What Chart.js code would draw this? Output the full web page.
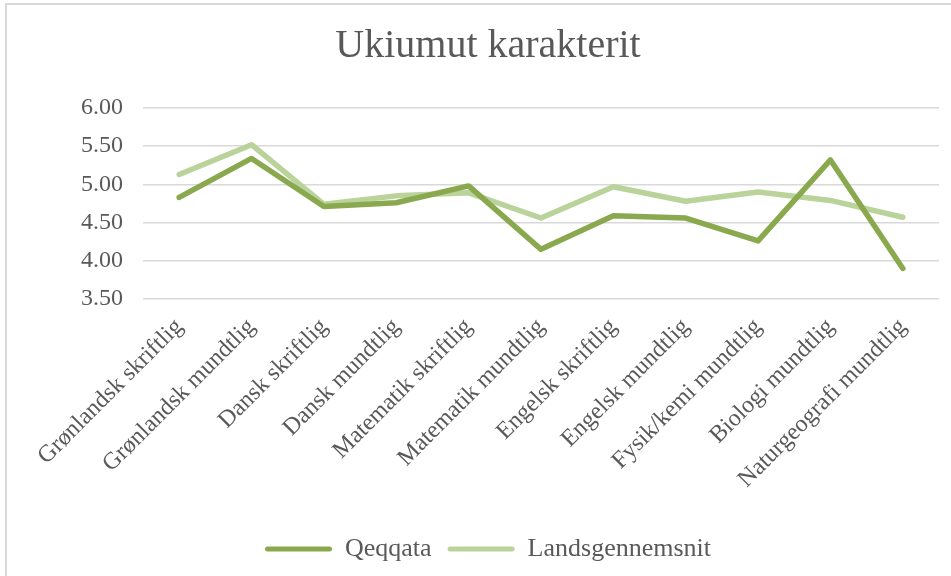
<!DOCTYPE html>
<html>
<head>
<meta charset="utf-8">
<script src="https://cdn.jsdelivr.net/npm/chart.js@4.4.1/dist/chart.umd.min.js"></script>
<style>
  html, body { margin: 0; padding: 0; background: #fff; }
  #wrap { position: relative; width: 951px; height: 576px; overflow: hidden; }
  #frame { position: absolute; left: 5px; top: 3px; width: 1000px; height: 1000px; border: 2px solid #d9d9d9; box-sizing: border-box; }
  canvas { position: absolute; left: 0; top: 0; }
</style>
</head>
<body>
<div id="wrap">
  <div id="frame"></div>
  <canvas id="c" width="951" height="576"></canvas>
</div>
<script>
const categories = [
  "Grønlandsk skriftlig", "Grønlandsk mundtlig", "Dansk skriftlig", "Dansk mundtlig",
  "Matematik skriftlig", "Matematik mundtlig", "Engelsk skriftlig", "Engelsk mundtlig",
  "Fysik/kemi mundtlig", "Biologi mundtlig", "Naturgeografi mundtlig"
];
const qeqqata = [4.83, 5.34, 4.71, 4.76, 4.98, 4.15, 4.59, 4.56, 4.26, 5.32, 3.90];
const landsgennemsnit = [5.13, 5.52, 4.74, 4.85, 4.89, 4.56, 4.97, 4.78, 4.90, 4.79, 4.57];
const yTicks = [3.5, 4.0, 4.5, 5.0, 5.5, 6.0];
const titleText = "Ukiumut karakterit";

const DARK = "#8aa94f";
const LIGHT = "#b9d39b";
const TXT = "#595959";
const FONT = "'Liberation Serif', serif";

new Chart(document.getElementById("c"), {
  type: "line",
  data: {
    labels: categories,
    datasets: [
      { label: "Qeqqata", data: qeqqata, borderColor: DARK, backgroundColor: DARK,
        borderWidth: 5.5, pointRadius: 0, borderCapStyle: "round", borderJoinStyle: "round", tension: 0 },
      { label: "Landsgennemsnit", data: landsgennemsnit, borderColor: LIGHT, backgroundColor: LIGHT,
        borderWidth: 5.5, pointRadius: 0, borderCapStyle: "round", borderJoinStyle: "round", tension: 0 }
    ]
  },
  options: {
    responsive: false,
    animation: false,
    layout: { padding: { left: 37, right: 12, top: 0, bottom: 4 } },
    plugins: {
      title: {
        display: true, text: titleText, color: TXT,
        font: { family: FONT, size: 40, weight: "normal" },
        padding: { top: 22, bottom: 38 }
      },
      legend: {
        position: "bottom",
        labels: {
          color: TXT, font: { family: FONT, size: 26 },
          boxWidth: 67, boxHeight: 5, padding: 16,
          generateLabels(chart) {
            return chart.data.datasets.map((d, i) => ({
              text: d.label, fillStyle: d.borderColor, strokeStyle: d.borderColor,
              lineWidth: 0, fontColor: TXT, datasetIndex: i, borderRadius: 2.5
            }));
          }
        }
      },
      tooltip: { enabled: false }
    },
    scales: {
      x: {
        offset: true,
        grid: { display: false },
        border: { display: false },
        ticks: { color: TXT, font: { family: FONT, size: 24 }, minRotation: 45, maxRotation: 45, padding: 6, autoSkip: false },
        afterFit(scale) { scale.height = 221; }
      },
      y: {
        min: 3.5, max: 6,
        afterBuildTicks(scale) { scale.ticks = yTicks.map(v => ({ value: v })); },
        grid: { color: "#d9d9d9", lineWidth: 1.5, drawTicks: false },
        border: { display: false },
        ticks: { color: TXT, font: { family: FONT, size: 24 }, padding: 20, callback: v => Number(v).toFixed(2) },
        afterFit(scale) { scale.width = 106; }
      }
    }
  }
});
</script>
</body>
</html>
